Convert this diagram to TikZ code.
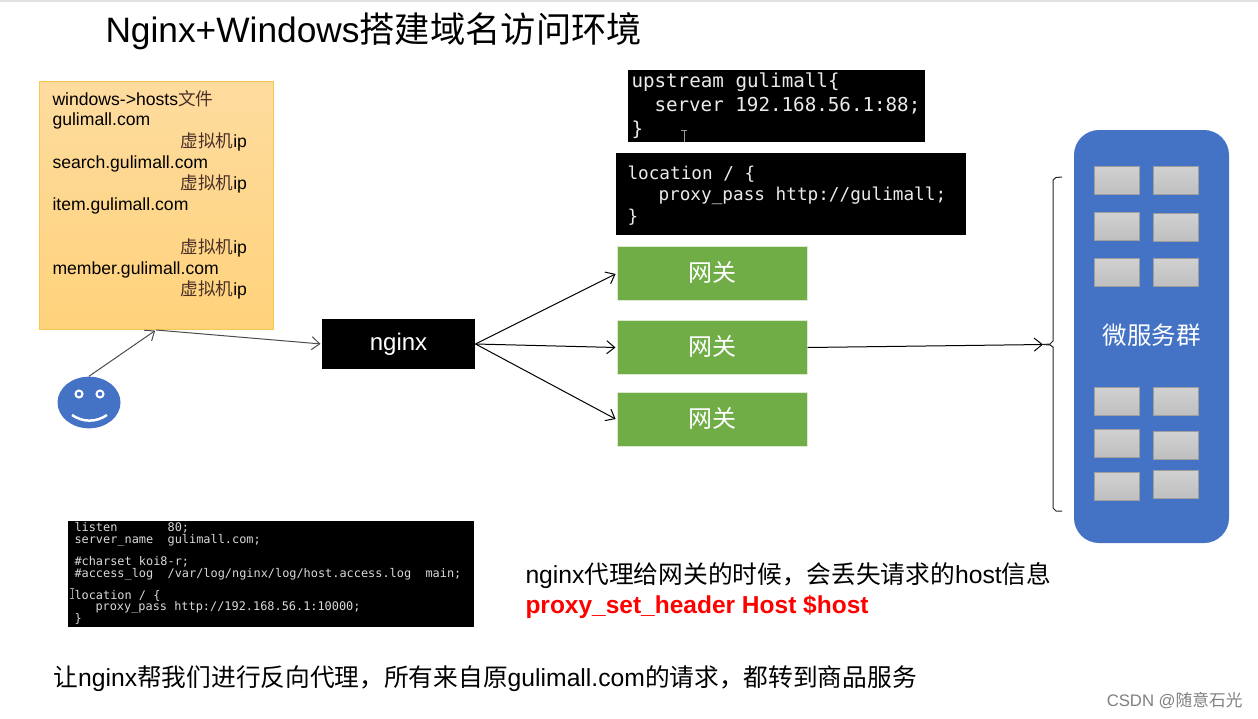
\documentclass[tikz,border=0pt]{standalone}
\usepackage{fontspec}
\setmainfont{Liberation Sans}
\newfontfamily\cjk{Noto Sans CJK SC}
\newfontfamily\codefont{DejaVu Sans Mono}
\usetikzlibrary{arrows.meta}
\definecolor{hostsedge}{HTML}{F7C84F}
\definecolor{hoststop}{HTML}{FEDC9F}
\definecolor{hostsbot}{HTML}{FFD27B}
\definecolor{panelblue}{HTML}{4472C4}
\definecolor{gwgreen}{HTML}{70AD47}
\definecolor{vmtext}{HTML}{4A3028}
\tikzset{
    arrow/.style={draw=black,shorten >=1,-{Straight Barb[length=8,width=13]}},
    grayarrow/.style={arrow,draw=black!70},
    hostline/.style={anchor=base west,inner sep=0pt,font=\fontsize{17.6}{20}\selectfont},
    gateway/.style={fill=gwgreen,draw=gwgreen!25,text=white,minimum width=190,minimum height=54,inner sep=0pt,text height=20,text depth=5,font=\fontsize{24}{28}\selectfont\cjk},
    service/.style={top color=black!18,bottom color=black!25,draw=black!38,minimum width=45,minimum height=28,inner sep=0pt},
    codeline/.style={anchor=base west,inner sep=0pt,text=black!8},
    slidetext/.style={anchor=base west,inner sep=0pt,font=\fontsize{24.7}{28}\selectfont}
}
\begin{document}
\begin{tikzpicture}[x=1pt,y=-1pt,line width=1pt]
    \useasboundingbox (0,0) rectangle (1258,718);
    \fill[black!12] (0,0) rectangle (1258,2);

    % title
    \node[anchor=base west,inner sep=0pt,font=\fontsize{35.3}{40}\selectfont] (title) at (105,42) {Nginx+Windows{\cjk 搭建域名访问环境}};

    % hosts file
    \node[draw=hostsedge,top color=hoststop,bottom color=hostsbot,minimum width=234,minimum height=248,inner sep=0pt] (hosts) at (156,205) {};
    \node[hostline] (h1) at (52,105) {windows->hosts{\cjk\color{vmtext} 文件}};
    \node[hostline] (h2) at (52,125) {gulimall.com};
    \node[hostline] (v1) at (180,147) {{\cjk\color{vmtext} 虚拟机}ip};
    \node[hostline] (h3) at (52,168) {search.gulimall.com};
    \node[hostline] (v2) at (180,189) {{\cjk\color{vmtext} 虚拟机}ip};
    \node[hostline] (h4) at (52,210) {item.gulimall.com};
    \node[hostline] (v3) at (180,253) {{\cjk\color{vmtext} 虚拟机}ip};
    \node[hostline] (h5) at (52,274) {member.gulimall.com};
    \node[hostline] (v4) at (180,295) {{\cjk\color{vmtext} 虚拟机}ip};

    % user
    \node[circle,fill=panelblue,minimum width=63,inner sep=0pt,yscale=0.82] (user) at (89,402.5) {};
    \foreach \x in {79,100}
        \draw[white,fill=panelblue,line width=2] (\x,394) circle (3.5);
    \draw[white,line width=2.5] (72,415) .. controls (83,422.5) and (96,422.5) .. (107,415);
    \coordinate (hostsin) at (156,330);
    \draw[grayarrow] (user.north) -- (hostsin);

    % nginx
    \node[fill=black,text=white,minimum width=153,minimum height=50,inner sep=0pt,font=\fontsize{24}{28}\selectfont] (nginx) at (398.5,344) {nginx};
    \draw[grayarrow] (hostsin) -- (nginx.west);

    % gateways
    \foreach \i/\y in {1/273.5,2/347.5,3/419.5}
        \node[gateway] (gw\i) at (712,\y) {网关};
    \foreach \i in {1,2,3}
        \draw[arrow] (nginx.east) -- (gw\i.west);

    % upstream, location
    \fill[black] (628,70) rectangle (925,141.5);
    \node[codeline,font=\fontsize{19.2}{22}\selectfont\codefont] (up1) at (631,87) {upstream gulimall\{};
    \node[codeline,font=\fontsize{19.2}{22}\selectfont\codefont] (up2) at (654,111) {server 192.168.56.1:88;};
    \node[codeline,font=\fontsize{19.2}{22}\selectfont\codefont] (up3) at (631,135) {\}};
    \draw[black!40] (681,130) -- (687,130) (684,130) -- (684,142);
    \fill[black] (616,153) rectangle (966,235);
    \node[codeline,font=\fontsize{17.7}{22}\selectfont\codefont] (loc1) at (627,179) {location / \{};
    \node[codeline,font=\fontsize{17.7}{22}\selectfont\codefont] (loc2) at (658,200) {proxy\_pass http://gulimall;};
    \node[codeline,font=\fontsize{17.7}{22}\selectfont\codefont] (loc3) at (627,222) {\}};

    % micro service panel
    \node[fill=panelblue,rounded corners=25,minimum width=155,minimum height=413,inner sep=0pt] (panel) at (1151.5,336.5) {};
    \foreach \i/\x/\y in {1/1116.5/180,2/1175.5/180,3/1116.5/226,4/1175.5/227,5/1116.5/272,6/1175.5/272,
        7/1116.5/401,8/1175.5/401,9/1116.5/443,10/1175.5/445,11/1116.5/486,12/1175.5/484}
        \node[service] (svc\i) at (\x,\y) {};
    \node[text=white,inner sep=0pt,font=\fontsize{24.5}{28}\selectfont\cjk] (panellabel) at (1151.5,335) {微服务群};

    % brace
    \draw[black!85] (1062,177) -- (1056,177.5) -- (1053,180) -- (1053,341) -- (1050,344) -- (1043,344.5) -- (1050,345) -- (1053,347) -- (1053,508) -- (1056,511) -- (1062,511);
    \coordinate (bracetip) at (1043,344.5);
    \draw[arrow,shorten >=0] (gw2.east) -- (bracetip);

    % nginx conf
    \fill[black] (68,521) rectangle (474,627);
    \foreach \t/\y/\x in {{listen\ \ \ \ \ \ \ 80;}/531/74,{server\_name\ \ gulimall.com;}/543/74,{\#charset koi8-r;}/565/74,
        {\#access\_log\ \ /var/log/nginx/log/host.access.log\ \ main;}/577/74,{location / \{}/599/74,{proxy\_pass http://192.168.56.1:10000;}/610/95,{\}}/622/74}
        \node[codeline,text=black!15,font=\fontsize{11.9}{14}\selectfont\codefont] at (\x,\y) {\t};
    \draw[black!40] (70,588) -- (74,588) (72,588) -- (72,598) (70,598) -- (74,598);

    % notes
    \node[slidetext] (note1) at (525,583) {nginx{\cjk 代理给网关的时候，会丢失请求的}host{\cjk 信息}};
    \node[slidetext,text=red,font=\fontsize{24.5}{28}\selectfont\bfseries] (note2) at (525,613) {proxy\_set\_header Host \$host};
    \node[slidetext] (note3) at (53,686) {{\cjk 让}nginx{\cjk 帮我们进行反向代理，所有来自原}gulimall.com{\cjk 的请求，都转到商品服务}};
    \node[anchor=base east,inner sep=0pt,text=black!50,font=\fontsize{16.7}{18}\selectfont] (mark) at (1243,706) {CSDN @{\cjk 随意石光}};
\end{tikzpicture}
\end{document}
